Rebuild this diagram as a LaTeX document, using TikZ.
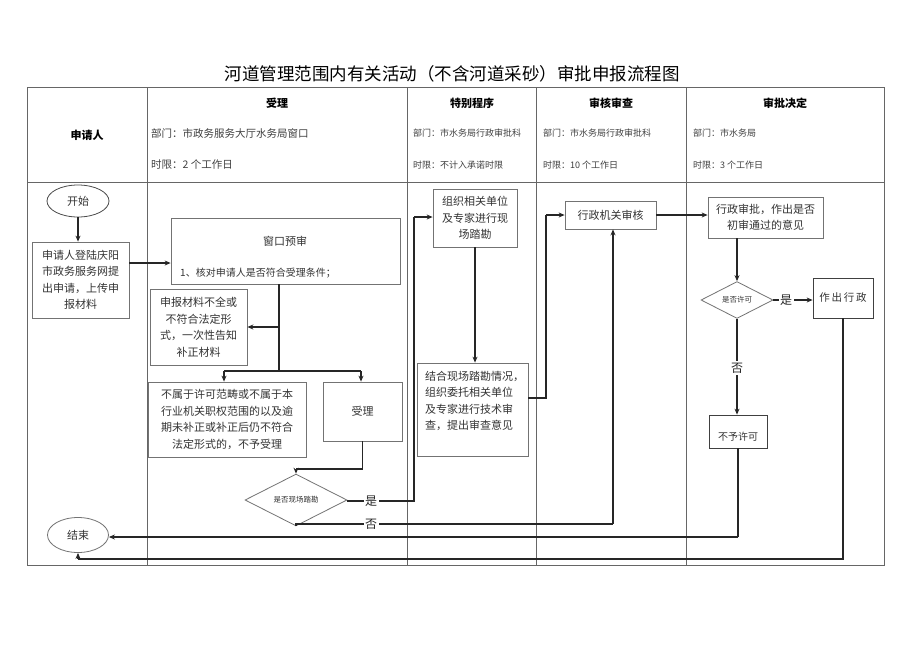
\documentclass[tikz,border=0pt]{standalone}
\usepackage{fontspec}
\setmainfont{Noto Sans CJK SC}
\usetikzlibrary{shapes.geometric,arrows.meta}
\begin{document}
\begin{tikzpicture}[x=1pt,y=-1pt,
  box/.style={draw=black!55, line width=0.8pt, rectangle, inner sep=0pt, align=center, font=\fontsize{11}{16.5}\selectfont, text=black!80},
  dia/.style={draw=black!55, line width=0.8pt, diamond, inner sep=0pt, font=\fontsize{7.5}{9}\selectfont, text=black!80},
  oval/.style={draw=black!70, line width=0.8pt, ellipse, inner sep=0pt, font=\fontsize{11}{13}\selectfont, text=black!80},
  txt/.style={inner sep=0pt, font=\fontsize{11}{16.5}\selectfont, text=black!80},
  arr/.style={draw=black!85, line width=1.1pt, -{Stealth[length=6pt,width=5pt]}},
  ln/.style={draw=black!85, line width=1.1pt},
  grid/.style={draw=black!60, line width=0.7pt},
  yn/.style={fill=white, inner sep=1.5pt, font=\fontsize{12}{12}\selectfont, text=black!85},
  hd/.style={font=\bfseries\fontsize{11}{13}\selectfont, inner sep=0pt},
  subA/.style={font=\fontsize{10.5}{12}\selectfont, anchor=west, inner sep=0pt, text=black!75},
  subB/.style={font=\fontsize{9}{11}\selectfont, anchor=west, inner sep=0pt, text=black!75},
]
\useasboundingbox[fill=white] (0,0) rectangle (920,651);

% title
\node[inner sep=0pt, font=\fontsize{17.5}{20}\selectfont] (title) at (452,74) {河道管理范围内有关活动（不含河道采砂）审批申报流程图};

% table
\draw[grid] (27,87) rectangle (884,565);
\draw[grid] (27,182) -- (884,182);
\foreach \x in {147,407,536,686} \draw[grid] (\x,87) -- (\x,565);

% header
\node[hd] (h1) at (87,135) {申请人};
\node[hd] (h2) at (277,103) {受理};
\node[hd] (h3) at (472,103) {特别程序};
\node[hd] (h4) at (611,103) {审核审查};
\node[hd] (h5) at (785,103) {审批决定};
\node[subA] (d2) at (151,133) {部门：市政务服务大厅水务局窗口};
\node[subA] (t2) at (151,165) {时限：2 个工作日};
\node[subB] (d3) at (413,133) {部门：市水务局行政审批科};
\node[subB] (t3) at (413,165) {时限：不计入承诺时限};
\node[subB] (d4) at (543,133) {部门：市水务局行政审批科};
\node[subB] (t4) at (543,165) {时限：10 个工作日};
\node[subB] (d5) at (693,133) {部门：市水务局};
\node[subB] (t5) at (693,165) {时限：3 个工作日};

% nodes
\node[oval, minimum width=62, minimum height=32] (start) at (78,201) {开始};
\node[box, minimum width=97, minimum height=76] (apply) at (80.5,280) {申请人登陆庆阳\\市政务服务网提\\出申请，上传申\\报材料};
\node[box, minimum width=229, minimum height=66] (win) at (285.5,251) {};
\node[txt] (wint1) at (285,241) {窗口预审};
\node[txt, anchor=west, font=\fontsize{10}{12}\selectfont] (wint2) at (180,273) {1、核对申请人是否符合受理条件；};
\node[box, minimum width=97, minimum height=76] (supp) at (198.5,327) {申报材料不全或\\不符合法定形\\式，一次性告知\\补正材料};
\node[box, minimum width=158, minimum height=75] (reject) at (227,419.5) {不属于许可范畴或不属于本\\行业机关职权范围的以及逾\\期未补正或补正后仍不符合\\法定形式的，不予受理};
\node[box, minimum width=79, minimum height=59] (accept) at (362.5,411.5) {受理};
\node[dia, minimum width=102, minimum height=34] (d1) at (296,500) {是否现场踏勘};
\node[box, minimum width=84, minimum height=58] (org) at (475,218) {组织相关单位\\及专家进行现\\场踏勘};
\node[box, minimum width=111, minimum height=93] (tech) at (472.5,409.5) {};
\node[txt, anchor=north west, align=left] (techt) at (425,371) {结合现场踏勘情况，\\组织委托相关单位\\及专家进行技术审\\查，提出审查意见};
\node[box, minimum width=91, minimum height=28] (rev) at (610.5,215) {行政机关审核};
\node[box, minimum width=115, minimum height=41] (appr) at (765.5,217.5) {行政审批，作出是否\\初审通过的意见};
\node[dia, minimum width=72, minimum height=33] (d2n) at (737,300) {是否许可};
\node[box, draw=black!75, minimum width=60, minimum height=40, font=\fontsize{10.5}{12}\selectfont] (make) at (843,298) {作\,出\,行\,政};
\node[box, draw=black!75, minimum width=58, minimum height=33, font=\fontsize{10}{12}\selectfont] (deny) at (738,431.5) {};
\node[txt, font=\fontsize{10}{12}\selectfont] (denyt) at (738,437) {不予许可};
\node[oval, draw=black!55, minimum width=61, minimum height=35] (end) at (78,535) {结束};

% labels on connectors
\coordinate (c1) at (279,284);
\coordinate (c2) at (279,371);
\coordinate (c3) at (224,371);
\coordinate (c4) at (361,371);
\coordinate (c5) at (362.5,469);
\coordinate (c6) at (296,469);
\coordinate (c7) at (414,501);
\coordinate (c8) at (414,217);
\coordinate (c9) at (296,524);
\coordinate (c10) at (613,524);
\coordinate (c11) at (546,398);
\coordinate (c12) at (546,215);
\coordinate (c13) at (737,238);
\coordinate (c14) at (738,537);
\coordinate (c15) at (843,559);
\coordinate (c16) at (78,559);

% connectors
\draw[arr] (start.south) -- (start.south |- apply.north);
\draw[arr] (apply.east |- 0,263) -- (win.west |- 0,263);
\draw[ln] (c1) -- (c2);
\draw[arr] (c1 |- supp.east) -- (supp.east);
\draw[ln] (c3) -- (c4);
\draw[arr] (c3) -- (c3 |- reject.north);
\draw[arr] (c4) -- (c4 |- accept.north);
\draw[ln] (accept.south) -- (c5) -- (c6);
\draw[arr] (c6) -- (d1.north);
\draw[ln] (d1.east) -- (c7 -| d1.east) -- (c7) -- (c8);
\draw[arr] (c8) -- (org.west |- c8);
\draw[ln] (d1.south) -- (c9) -- (c10);
\draw[arr] (c10) -- (c10 |- rev.south);
\draw[arr] (org.south) -- (org.south |- tech.north);
\draw[ln] (tech.east |- c11) -- (c11) -- (c12);
\draw[arr] (c12) -- (rev.west);
\draw[arr] (rev.east) -- (appr.west |- rev.east);
\draw[arr] (c13) -- (d2n.north);
\draw[arr] (d2n.east) -- (make.west |- d2n.east);
\draw[arr] (d2n.south) -- (d2n.south |- deny.north);
\draw[ln] (deny.south) -- (c14);
\draw[arr] (c14) -- (end.east |- c14);
\draw[ln] (make.south) -- (c15) -- (c16);
\draw[arr] (c16) -- (end.south);

\node[yn] (y1) at (371,501) {是};
\node[yn] (n1) at (371,524) {否};
\node[yn] (y2) at (786,300) {是};
\node[yn] (n2) at (737,368) {否};
\end{tikzpicture}
\end{document}
